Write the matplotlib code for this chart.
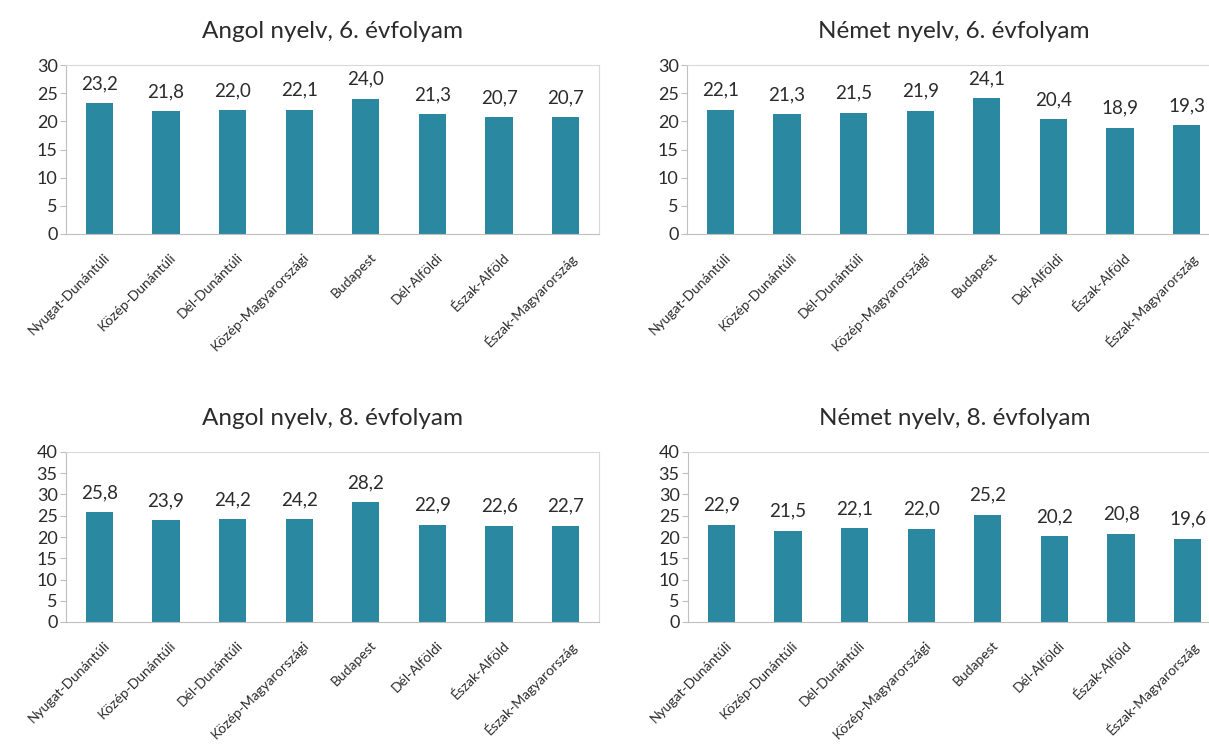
import numpy as np
import matplotlib.pyplot as plt
import matplotlib.transforms as mtransforms

plt.rcParams['font.family'] = ['Lato', 'DejaVu Sans']

regions = ['Nyugat-Dunántúli', 'Közép-Dunántúli', 'Dél-Dunántúli', 'Közép-Magyarországi',
           'Budapest', 'Dél-Alföldi', 'Észak-Alföld', 'Észak-Magyarország']

angol_6 = [23.2, 21.8, 22.0, 22.1, 24.0, 21.3, 20.7, 20.7]
nemet_6 = [22.1, 21.3, 21.5, 21.9, 24.1, 20.4, 18.9, 19.3]
angol_8 = [25.8, 23.9, 24.2, 24.2, 28.2, 22.9, 22.6, 22.7]
nemet_8 = [22.9, 21.5, 22.1, 22.0, 25.2, 20.2, 20.8, 19.6]

titles = ['Angol nyelv, 6. évfolyam', 'Német nyelv, 6. évfolyam',
          'Angol nyelv, 8. évfolyam', 'Német nyelv, 8. évfolyam']

bar_color = '#2A88A0'
txt = '#2b2b2b'
W, H = 1209, 746

fig = plt.figure(figsize=(W / 100, H / 100), dpi=100)

# axes boxes in pixels: left, top, right, bottom (right column runs past the edge)
boxes = [(66, 65, 599, 234), (687, 65, 1220, 234),
         (66, 452, 599, 622), (688, 452, 1221, 622)]
datasets = [angol_6, nemet_6, angol_8, nemet_8]
ymaxes = [30, 30, 40, 40]

for (l, t, r, b), vals, title, ymax in zip(boxes, datasets, titles, ymaxes):
    ax = fig.add_axes([l / W, 1 - b / H, (r - l) / W, (b - t) / H])
    x = np.arange(len(regions))
    ax.bar(x, vals, width=0.41, color=bar_color, zorder=2)
    for xi, v in zip(x, vals):
        ax.annotate(f'{v:.1f}'.replace('.', ','), (xi, v), xytext=(0, 8),
                    textcoords='offset points', ha='center', va='bottom',
                    fontsize=13.5, color=txt)
    ax.set_xlim(-0.5, len(regions) - 0.5)
    ax.set_ylim(0, ymax)
    ax.set_yticks(np.arange(0, ymax + 1, 5))
    ax.tick_params(axis='y', labelsize=13, length=4, color='#bfbfbf', pad=2,
                   labelcolor=txt)
    ax.tick_params(axis='x', length=0, pad=12)
    ax.set_xticks(x)
    ax.set_xticklabels(regions, rotation=45, ha='right', va='top',
                       rotation_mode='anchor', fontsize=10, color=txt)
    shift = mtransforms.ScaledTranslation(4 / 100, 0, fig.dpi_scale_trans)
    for lab in ax.get_xticklabels():
        lab.set_transform(lab.get_transform() + shift)
    for s in ['top', 'right']:
        ax.spines[s].set_color('#d9d9d9')
    for s in ['left', 'bottom']:
        ax.spines[s].set_color('#bfbfbf')
    ax.set_title(title, fontsize=17.5, pad=19.5, color=txt)

fig.savefig('out.png', dpi=100)
